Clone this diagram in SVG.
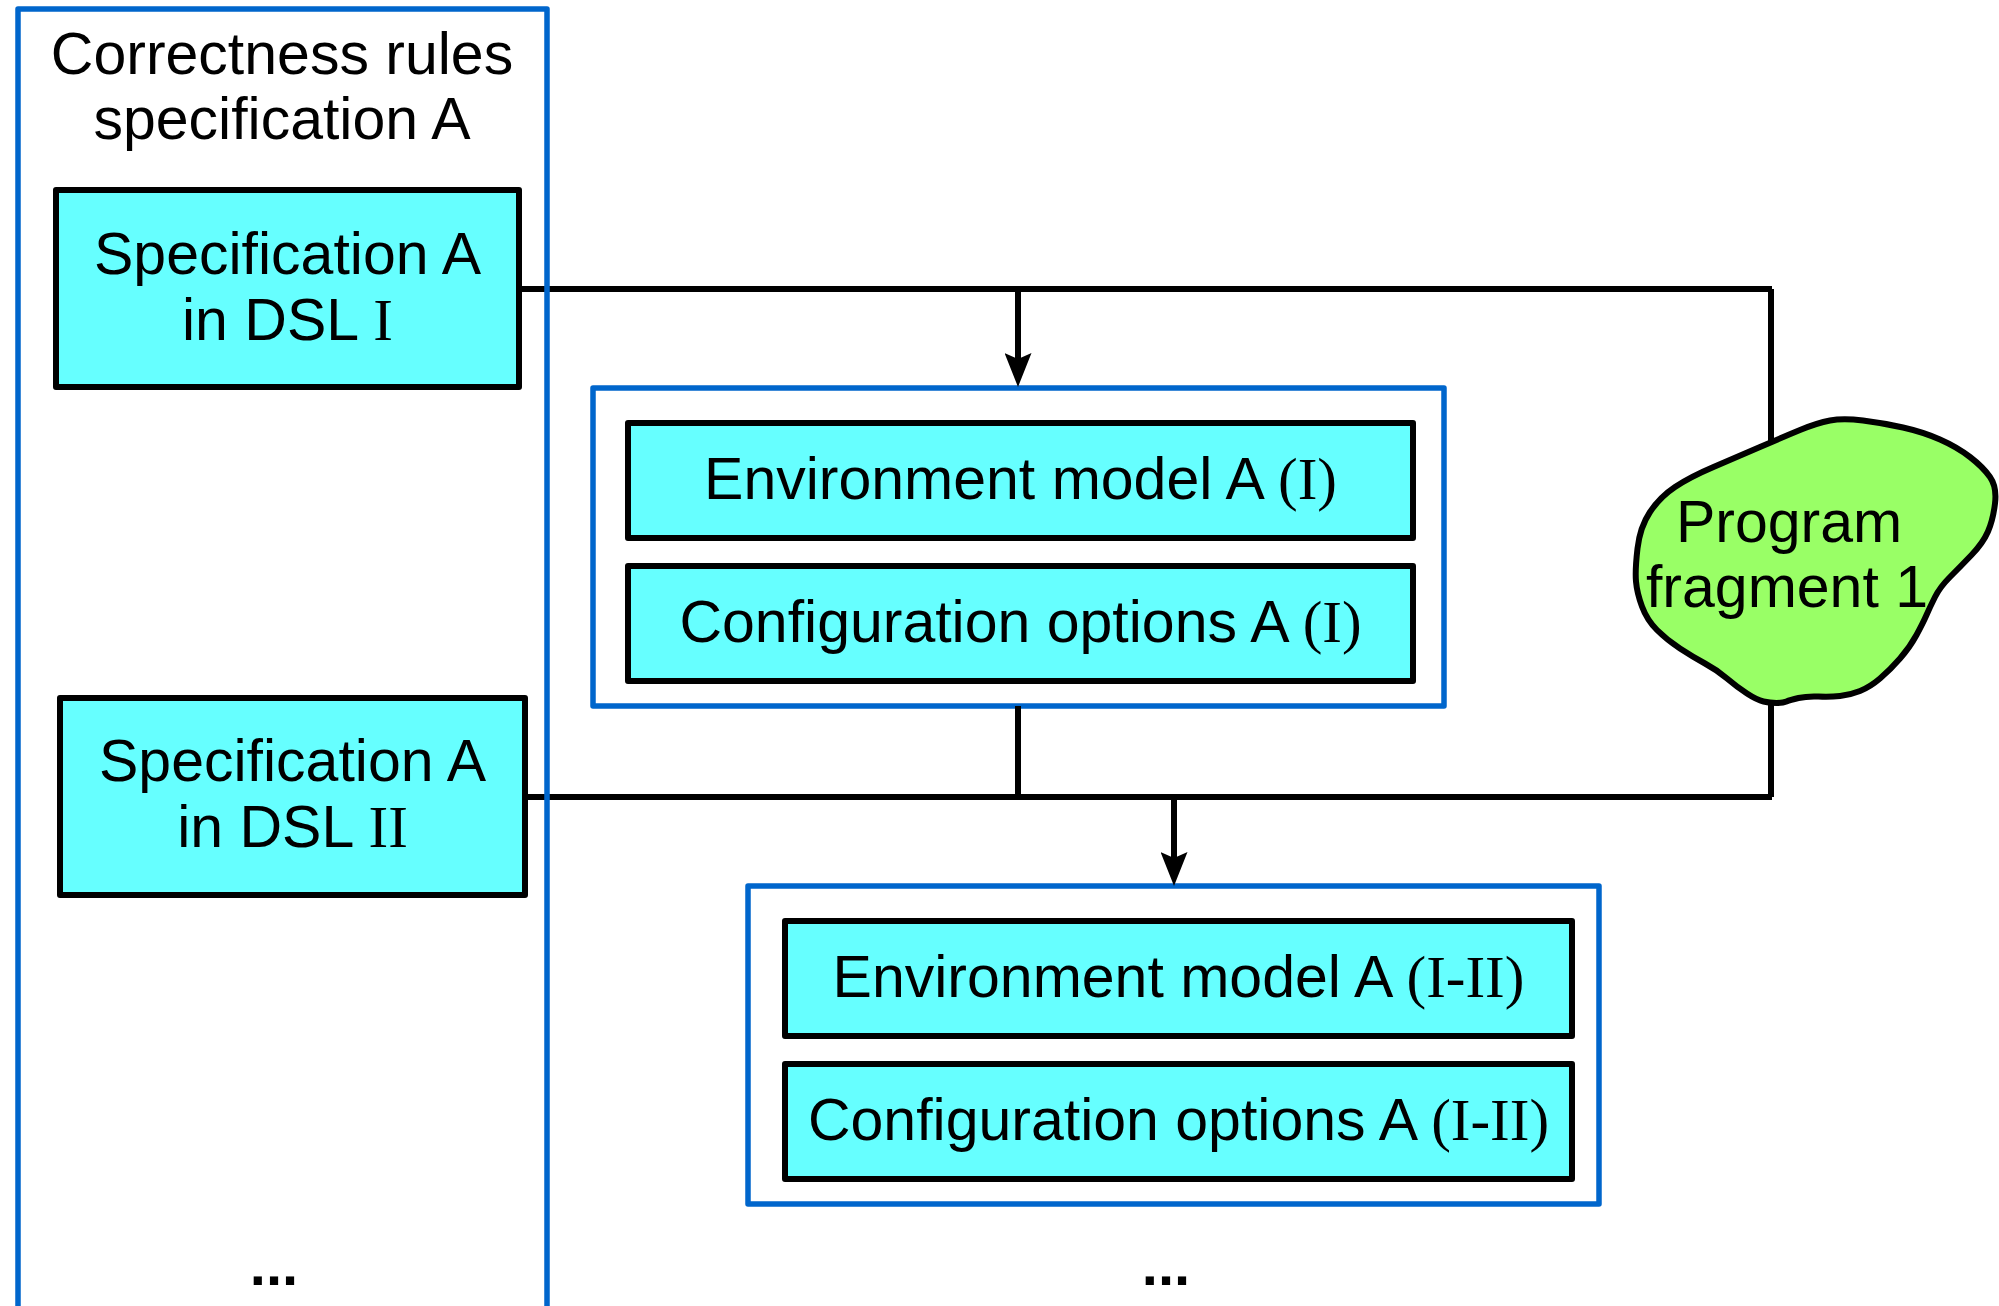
<svg xmlns="http://www.w3.org/2000/svg" width="1999" height="1306" viewBox="0 0 1999 1306">
  <style>
    .frame { fill: none; stroke: #0066cc; stroke-width: 5.5; stroke-linejoin: round; }
    .box { fill: #66ffff; stroke: #000000; stroke-width: 6; stroke-linejoin: round; }
    .blob { fill: #99ff66; stroke: #000000; stroke-width: 6; stroke-linejoin: round; }
    .wire { fill: none; stroke: #000000; stroke-width: 6; }
    .lbl { font-family: "Liberation Sans", Arial, sans-serif; font-size: 59px; fill: #000000; text-anchor: middle; }
    .rom { font-family: "Liberation Serif", "Times New Roman", serif; }
    .dots { font-family: "Liberation Sans", Arial, sans-serif; font-size: 58px; font-weight: bold; fill: #000000; text-anchor: middle; }
  </style>
  <defs>
    <marker id="head" markerUnits="userSpaceOnUse" markerWidth="34" markerHeight="27" viewBox="0 0 34 27" refX="6" refY="13.5" orient="auto">
      <path d="M0,0 L34,13.5 L0,27 L6,13.5 Z" fill="#000000"/>
    </marker>
  </defs>

  <rect width="1999" height="1306" fill="#ffffff"/>

  <!-- derived models for DSL I -->
  <g id="group-dsl1">
    <rect class="frame" x="593" y="388" width="851" height="318"/>
    <g id="env-model-1">
      <rect class="box" x="628" y="423" width="785" height="115"/>
      <text class="lbl" x="1020.5" y="499">Environment model A <tspan class="rom">(I)</tspan></text>
    </g>
    <g id="config-options-1">
      <rect class="box" x="628" y="566" width="785" height="115"/>
      <text class="lbl" x="1020.5" y="642">Configuration options A <tspan class="rom">(I)</tspan></text>
    </g>
  </g>

  <!-- derived models for DSL I-II -->
  <g id="group-dsl12">
    <rect class="frame" x="748" y="886" width="851" height="318"/>
    <g id="env-model-12">
      <rect class="box" x="785" y="921" width="787" height="115"/>
      <text class="lbl" x="1178.5" y="997">Environment model A <tspan class="rom">(I-II)</tspan></text>
    </g>
    <g id="config-options-12">
      <rect class="box" x="785" y="1064" width="787" height="115"/>
      <text class="lbl" x="1178.5" y="1140">Configuration options A <tspan class="rom">(I-II)</tspan></text>
    </g>
  </g>

  <!-- specifications -->
  <g id="spec-dsl1">
    <rect class="box" x="56" y="190" width="463" height="197"/>
    <text class="lbl" x="287.5" y="274">Specification A</text>
    <text class="lbl" x="287.5" y="340">in DSL <tspan class="rom">I</tspan></text>
  </g>
  <g id="spec-dsl2">
    <rect class="box" x="60" y="698" width="465" height="197"/>
    <text class="lbl" x="292.5" y="781">Specification A</text>
    <text class="lbl" x="292.5" y="847">in DSL <tspan class="rom">II</tspan></text>
  </g>

  <!-- connectors -->
  <g id="connectors">
    <path class="wire" d="M519,289 H1772"/>
    <path class="wire" d="M1771,289 V797"/>
    <path class="wire" d="M525,797 H1772"/>
    <path class="wire" d="M1018,706 V797"/>
    <path class="wire" d="M1018,289 V359" marker-end="url(#head)"/>
    <path class="wire" d="M1174,797 V858" marker-end="url(#head)"/>
  </g>

  <!-- rules specification container -->
  <g id="rules-spec">
    <path class="frame" d="M18,1312 V9 H547 V1312"/>
    <text class="lbl" x="282" y="74">Correctness rules</text>
    <text class="lbl" x="282" y="139">specification A</text>
    <text class="dots" x="274" y="1285">...</text>
  </g>

  <text class="dots" x="1166" y="1285">...</text>

  <!-- program fragment -->
  <g id="program-fragment-1">
    <path class="blob" d="M1636,581.5 Q1635,570 1637.5,548.5 Q1640,527 1650,512 Q1660,497 1675,487 Q1690,477 1713.5,467 Q1737,457 1760,447 Q1783,437 1800,430 Q1817,423 1830,420.5 Q1843,418 1863,420.5 Q1883,423 1903,427.5 Q1923,432 1940,439.5 Q1957,447 1970,457 Q1983,467 1990,477 Q1997,487 1995,503.5 Q1993,520 1988,531.5 Q1983,543 1971.5,555 Q1960,567 1950,577 Q1940,587 1935,597 Q1930,607 1926.5,615 Q1923,623 1916.5,635 Q1910,647 1900,658.5 Q1890,670 1880,678.5 Q1870,687 1860,691 Q1850,695 1840,696 Q1830,697 1818.5,696.5 Q1807,696 1798.5,698 Q1790,700 1786.5,701.5 Q1783,703 1776.5,703 Q1770,703 1763.5,701.5 Q1757,700 1747,693.5 Q1737,687 1727,678.5 Q1717,670 1705,663.5 Q1693,657 1680,648.5 Q1667,640 1657,630 Q1647,620 1642,606.5 Q1637,593 1636,581.5 Z"/>
    <text class="lbl" x="1789" y="542">Program</text>
    <text class="lbl" x="1787" y="607">fragment 1</text>
  </g>
</svg>
